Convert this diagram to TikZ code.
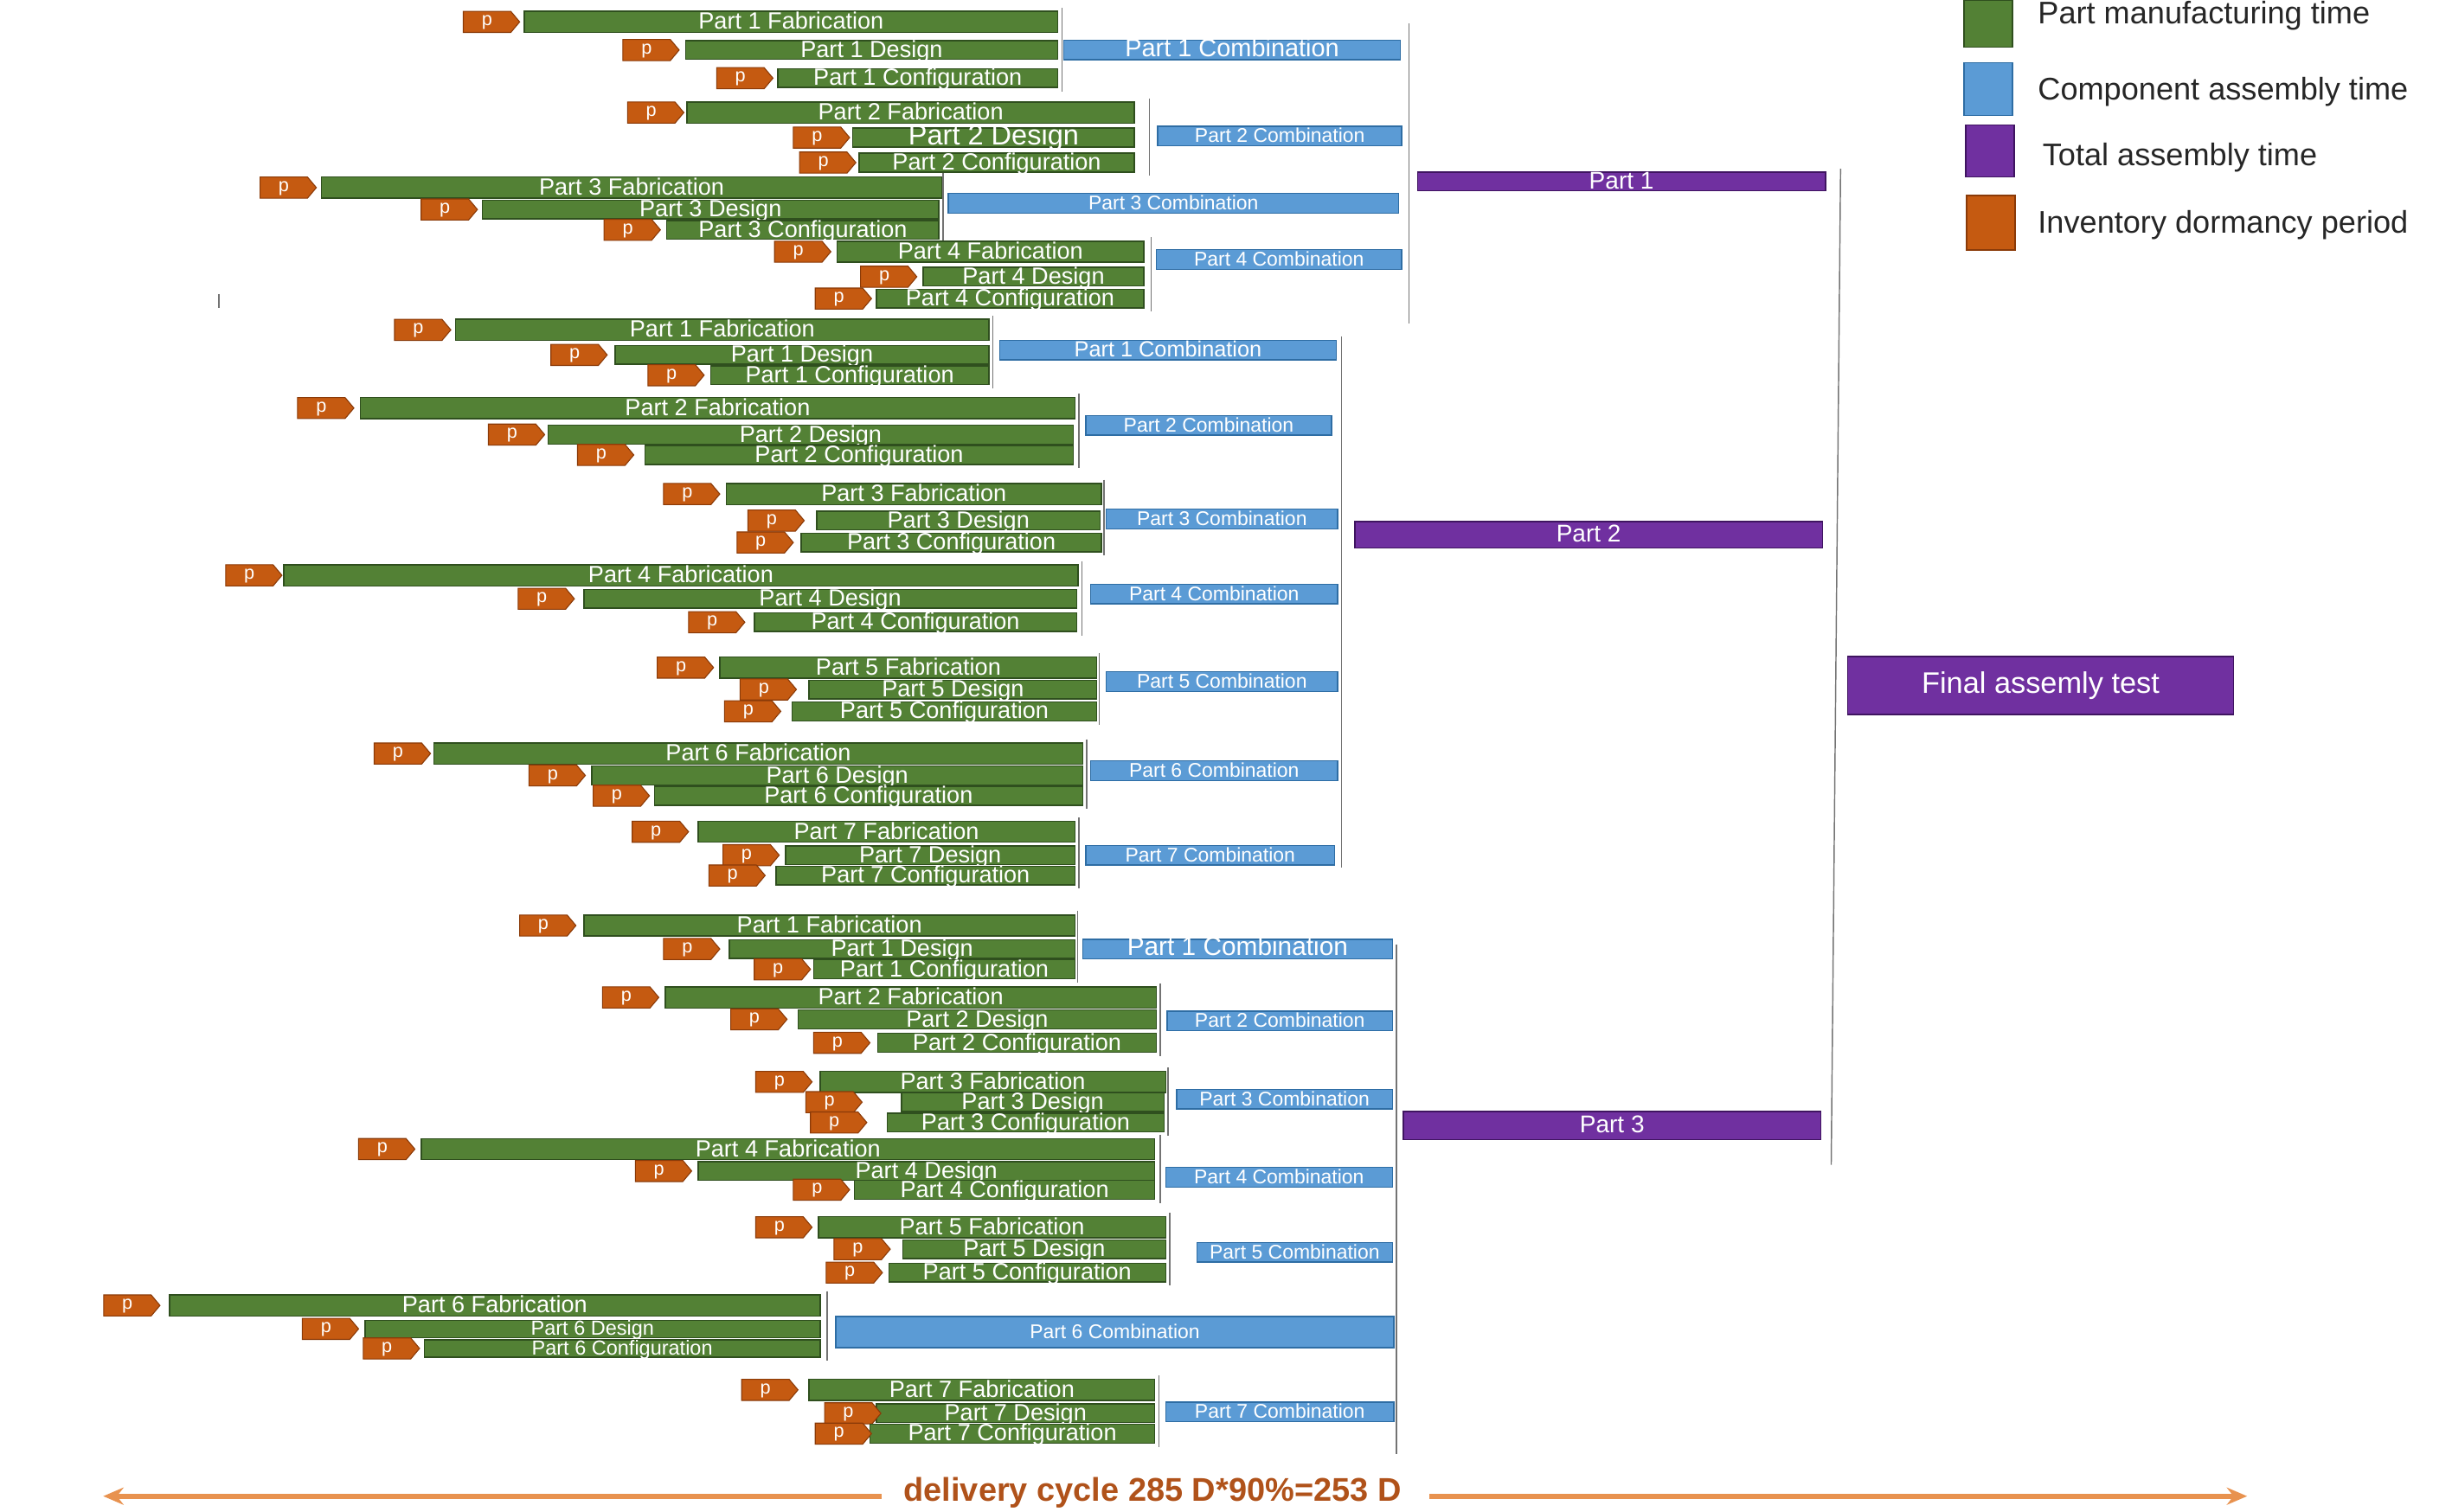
\documentclass[tikz,border=0pt]{standalone}
\usepackage{fontspec}
\setmainfont{Liberation Sans}
\usetikzlibrary{shapes.symbols,arrows.meta,calc}

\definecolor{mfg}{HTML}{538135}
\definecolor{mfgdark}{HTML}{2F4F1E}
\definecolor{asm}{HTML}{5B9BD5}
\definecolor{asmdark}{HTML}{2E6DA4}
\definecolor{tot}{HTML}{7030A0}
\definecolor{totdark}{HTML}{3F1460}
\definecolor{idle}{HTML}{C55A11}
\definecolor{idledark}{HTML}{8A3A08}
\definecolor{cycline}{HTML}{E8924F}
\definecolor{cyctext}{HTML}{B0521A}

\newcommand\px[1]{\fontsize{#1}{#1}\selectfont}

\tikzset{
  gbar/.style={draw=mfgdark, fill=mfg, line width=0.8pt, anchor=west,
    minimum height=12, inner sep=0pt, text=white, font=\px{15},
    text height=10, text depth=0.5},
  fab/.style={minimum height=13.5},
  small/.style={font=\px{13}, minimum height=11, text height=8.5},
  bbar/.style={draw=asmdark, fill=asm, line width=0.8pt, anchor=west,
    minimum height=12.5, inner sep=0pt, text=white, font=\px{12.7},
    text height=9, text depth=0.5},
  pbar/.style={draw=totdark, fill=tot, line width=0.8pt, anchor=west,
    inner sep=0pt, text=white, font=\px{15.5}, text height=10, text depth=0.5},
  ptag/.style={signal, signal to=east, signal pointer angle=100,
    fill=idle, draw=idledark, line width=0.6pt, anchor=west,
    minimum width=36, minimum height=13.5, inner sep=0pt,
    text=white, font=\px{12}, text height=7, text depth=2},
  link/.style={draw=black!55, line width=0.8pt},
  lgbox/.style={minimum width=31, inner sep=0pt, line width=0.8pt},
  lgtext/.style={anchor=west, inner sep=0pt, font=\px{20}, text=black!85},
  cyc/.style={draw=cycline, line width=3.5pt, -{Stealth[length=13pt,width=11pt]}}
}

% #1 bar options, #2 name, #3 tag x, #4 bar left, #5 bar right, #6 y, #7 label
\newcommand\task[7][]{%
  \node[gbar, #1, minimum width={#5-#4}] (#2) at (#4,#6) {#7};
  \node[ptag] (#2p) at (#3,#6) {p};}

% #1 x, #2 top node, #3 bottom node, #4 name
\newcommand\grpline[4]{%
  \coordinate (#4) at (#1,0);
  \draw[link] ([yshift=2pt]#4 |- #2.north) -- ([yshift=-2pt]#4 |- #3.south);}

\begin{document}
\begin{tikzpicture}[x=1pt, y=-1pt]
  \useasboundingbox (0,0) rectangle (1568,967);

  % legend
  \node[lgbox, fill=mfg, draw=mfgdark, minimum height=30] (lg1) at (1271.5,15) {};
  \node[lgbox, fill=asm, draw=asmdark, minimum height=34] (lg2) at (1271.5,57) {};
  \node[lgbox, fill=tot, draw=totdark, minimum height=33] (lg3) at (1272.5,96.5) {};
  \node[lgbox, fill=idle, draw=idledark, minimum height=35] (lg4) at (1273,142.5) {};
  \node[lgtext] (lt1) at (1303,10) {Part manufacturing time};
  \node[lgtext] (lt2) at (1303,59) {Component assembly time};
  \node[lgtext] (lt3) at (1306,101) {Total assembly time};
  \node[lgtext] (lt4) at (1303,144) {Inventory dormancy period};

  % ---- block 1 ----
  \task[fab]{a1f}{296}{335}{676}{14}{Part 1 Fabrication}
  \task{a1d}{398}{438}{676}{32}{Part 1 Design}
  \task{a1c}{458}{497}{676}{50}{Part 1 Configuration}
  \node[bbar, minimum width={895-680}, font=\px{16}] (a1m) at (680,32) {Part 1 Combination};
  \grpline{679}{a1f}{a1c}{a1x}

  \task[fab]{a2f}{401}{439}{725}{72}{Part 2 Fabrication}
  \task[font=\px{18}]{a2d}{507}{545}{725}{88}{Part 2 Design}
  \task{a2c}{511}{549}{725}{104}{Part 2 Configuration}
  \node[bbar, minimum width={896-740}] (a2m) at (740,87) {Part 2 Combination};
  \grpline{735}{a2f}{a2c}{a2x}

  \task[fab]{a3f}{166}{205}{602}{120}{Part 3 Fabrication}
  \task{a3d}{269}{308}{600}{134}{Part 3 Design}
  \task{a3c}{386}{426}{600}{147}{Part 3 Configuration}
  \node[bbar, minimum width={894-606}] (a3m) at (606,130) {Part 3 Combination};
  \grpline{603}{a3f}{a3c}{a3x}

  \task[fab]{a4f}{495}{535}{731}{161}{Part 4 Fabrication}
  \task{a4d}{550}{590}{731}{177}{Part 4 Design}
  \task{a4c}{521}{560}{731}{191}{Part 4 Configuration}
  \node[bbar, minimum width={896-739}] (a4m) at (739,166) {Part 4 Combination};
  \grpline{736}{a4f}{a4c}{a4x}

  \node[pbar, minimum width={1167-906}, minimum height=12] (tp1) at (906,116) {Part 1};
  \coordinate (at) at (901,15);
  \coordinate (ab) at (901,207);
  \draw[link] (at) -- (ab);
  \draw[link] (140,188) -- (140,197);

  % ---- block 2 ----
  \task[fab]{b1f}{252}{291}{632}{211}{Part 1 Fabrication}
  \task{b1d}{352}{393}{632}{227}{Part 1 Design}
  \task{b1c}{414}{454}{632}{240}{Part 1 Configuration}
  \node[bbar, minimum width={854-639}, font=\px{14}] (b1m) at (639,224) {Part 1 Combination};
  \grpline{635}{b1f}{b1c}{b1x}

  \task[fab]{b2f}{190}{230}{687}{261}{Part 2 Fabrication}
  \task{b2d}{312}{350}{686}{278}{Part 2 Design}
  \task{b2c}{369}{412}{686}{291}{Part 2 Configuration}
  \node[bbar, minimum width={851-694}] (b2m) at (694,272) {Part 2 Combination};
  \grpline{690}{b2f}{b2c}{b2x}

  \task[fab]{b3f}{424}{464}{704}{316}{Part 3 Fabrication}
  \task{b3d}{478}{522}{703}{333}{Part 3 Design}
  \task{b3c}{471}{512}{704}{347}{Part 3 Configuration}
  \node[bbar, minimum width={855-707}] (b3m) at (707,332) {Part 3 Combination};
  \grpline{706}{b3f}{b3c}{b3x}

  \task[fab]{b4f}{144}{181}{689}{368}{Part 4 Fabrication}
  \task{b4d}{331}{373}{688}{383}{Part 4 Design}
  \task{b4c}{440}{482}{688}{398}{Part 4 Configuration}
  \node[bbar, minimum width={855-697}] (b4m) at (697,380) {Part 4 Combination};
  \grpline{692}{b4f}{b4c}{b4x}

  \task[fab]{b5f}{420}{460}{701}{427}{Part 5 Fabrication}
  \task{b5d}{473}{517}{701}{441}{Part 5 Design}
  \task{b5c}{463}{506}{701}{455}{Part 5 Configuration}
  \node[bbar, minimum width={855-707}] (b5m) at (707,436) {Part 5 Combination};
  \grpline{703}{b5f}{b5c}{b5x}

  \task[fab]{b6f}{239}{277}{692}{482}{Part 6 Fabrication}
  \task{b6d}{338}{378}{692}{496}{Part 6 Design}
  \task{b6c}{379}{418}{692}{509}{Part 6 Configuration}
  \node[bbar, minimum width={855-697}] (b6m) at (697,493) {Part 6 Combination};
  \grpline{695}{b6f}{b6c}{b6x}

  \task[fab]{b7f}{404}{446}{687}{532}{Part 7 Fabrication}
  \task{b7d}{462}{502}{687}{547}{Part 7 Design}
  \task{b7c}{453}{496}{687}{560}{Part 7 Configuration}
  \node[bbar, minimum width={853-694}] (b7m) at (694,547) {Part 7 Combination};
  \grpline{690}{b7f}{b7c}{b7x}

  \node[pbar, minimum width={1165-866}, minimum height=17] (tp2) at (866,342) {Part 2};
  \coordinate (bt) at (858,215);
  \coordinate (bb) at (858,555);
  \draw[link] (bt) -- (bb);

  % ---- block 3 ----
  \task[fab]{c1f}{332}{373}{687}{592}{Part 1 Fabrication}
  \task{c1d}{424}{466}{687}{607}{Part 1 Design}
  \task{c1c}{482}{520}{687}{620}{Part 1 Configuration}
  \node[bbar, minimum width={890-692}, font=\px{16.5}] (c1m) at (692,607) {Part 1 Combination};
  \grpline{689}{c1f}{c1c}{c1x}

  \task[fab]{c2f}{385}{425}{739}{638}{Part 2 Fabrication}
  \task{c2d}{467}{510}{739}{652}{Part 2 Design}
  \task{c2c}{520}{561}{739}{667}{Part 2 Configuration}
  \node[bbar, minimum width={890-746}] (c2m) at (746,653) {Part 2 Combination};
  \grpline{742}{c2f}{c2c}{c2x}

  \task[fab]{c3f}{483}{524}{745}{692}{Part 3 Fabrication}
  \task{c3d}{515}{576}{744}{705}{Part 3 Design}
  \task{c3c}{518}{567}{744}{718}{Part 3 Configuration}
  \node[bbar, minimum width={890-752}] (c3m) at (752,703) {Part 3 Combination};
  \grpline{747}{c3f}{c3c}{c3x}

  \task[fab]{c4f}{229}{269}{738}{735}{Part 4 Fabrication}
  \task{c4d}{406}{446}{738}{749}{Part 4 Design}
  \task{c4c}{507}{546}{738}{761}{Part 4 Configuration}
  \node[bbar, minimum width={890-745}] (c4m) at (745,753) {Part 4 Combination};
  \grpline{742}{c4f}{c4c}{c4x}

  \task[fab]{c5f}{483}{523}{745}{785}{Part 5 Fabrication}
  \task{c5d}{533}{577}{745}{799}{Part 5 Design}
  \task{c5c}{528}{568}{745}{814}{Part 5 Configuration}
  \node[bbar, minimum width={890-765}] (c5m) at (765,801) {Part 5 Combination};
  \grpline{748}{c5f}{c5c}{c5x}

  \task[fab]{c6f}{66}{108}{524}{835}{Part 6 Fabrication}
  \task[small]{c6d}{193}{233}{524}{850}{Part 6 Design}
  \task[small]{c6c}{232}{271}{524}{862.5}{Part 6 Configuration}
  \node[bbar, minimum width={891-534}, minimum height=20] (c6m) at (534,852) {Part 6 Combination};
  \grpline{529}{c6f}{c6c}{c6x}

  \task[fab]{c7f}{474}{517}{738}{889}{Part 7 Fabrication}
  \task{c7d}{527}{560}{738}{904}{Part 7 Design}
  \task{c7c}{521}{556}{738}{917}{Part 7 Configuration}
  \node[bbar, minimum width={891-745}] (c7m) at (745,903) {Part 7 Combination};
  \grpline{741}{c7f}{c7c}{c7x}

  \node[pbar, minimum width={1164-897}, minimum height=18] (tp3) at (897,720) {Part 3};
  \coordinate (ct) at (893,604);
  \coordinate (cb) at (893,930);
  \draw[link] (ct) -- (cb);

  % ---- final ----
  \coordinate (ft) at (1177,108);
  \coordinate (fb) at (1171,745);
  \draw[link] (ft) -- (fb);
  \node[pbar, minimum width={1428-1181}, minimum height=37, font=\px{19}] (fin) at (1181,438.5) {Final assemly test};

  % delivery cycle
  \node[font=\bfseries\px{21}, text=cyctext, inner sep=0pt] (dc) at (737,955) {delivery cycle 285 D*90\%=253 D};
  \coordinate (dl) at (66,957);
  \coordinate (dr) at (1437,957);
  \draw[cyc] ([xshift=-14pt]dc.west |- dl) -- (dl);
  \draw[cyc] ([xshift=18pt]dc.east |- dr) -- (dr);
\end{tikzpicture}
\end{document}
